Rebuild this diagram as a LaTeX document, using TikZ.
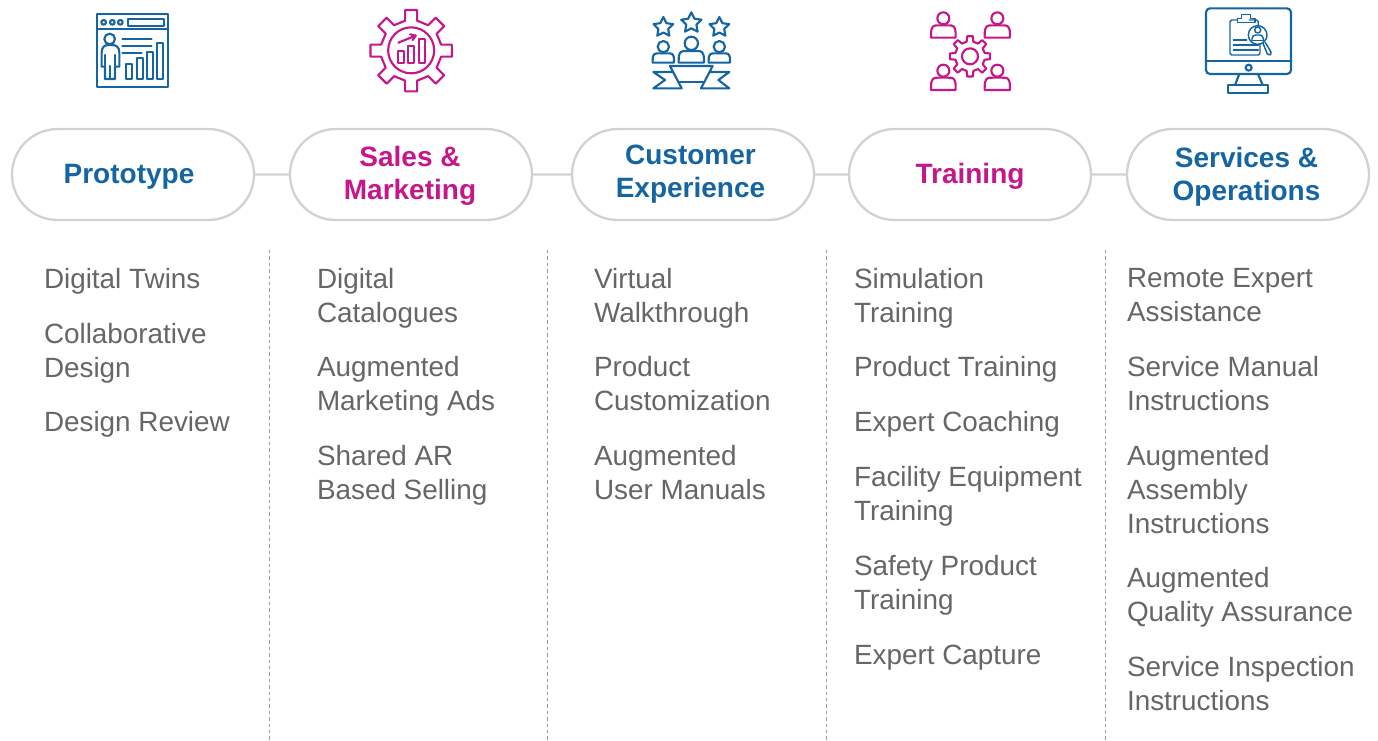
\documentclass[tikz,border=0pt]{standalone}
\usepackage{fontspec}
\setmainfont{Liberation Sans}
\usetikzlibrary{shapes.misc}
\definecolor{iblue}{HTML}{1565A3}
\definecolor{imag}{HTML}{C5178A}
\definecolor{itext}{HTML}{666666}
\definecolor{ipill}{HTML}{D2D2D2}
\definecolor{isep}{HTML}{9A9A9A}
\tikzset{
  pill/.style={draw=ipill,line width=1.75pt,rounded rectangle,minimum width=181.5pt,minimum height=68.2pt,inner sep=0pt},
  head/.style={inner sep=0pt,align=center,font=\fontsize{21}{24.8}\selectfont\bfseries},
  link/.style={draw=ipill,line width=1.75pt},
  sep/.style={draw=isep,line width=0.7pt,dash pattern=on 2.6pt off 2.2pt},
  item/.style={anchor=north west,inner sep=0pt,outer sep=0pt,yshift=17.7pt,align=left,text=itext,font=\fontsize{20.9}{25.3}\selectfont,execute at begin node=\strut},
  multi/.style={yshift=-3pt},
  zoomed/.style={shift={(#1,0)},x=0.25pt,y=-0.25pt,line width=1.6pt,line join=round,line cap=round},
  thin line/.style={line width=1.1pt}
}
\newcommand{\iperson}[5]{% head x, head y, head r, body half width, body bottom
  \draw (#1,#2) circle[radius=#3];
  \draw ({#1-#4},#5) -- ({#1-#4},{#5-7}) .. controls ({#1-#4},{#2+#3+3}) and ({#1-#4*0.8},{#2+#3+3}) .. ({#1-#4*0.4},{#2+#3+3}) -- ({#1+#4*0.4},{#2+#3+3}) .. controls ({#1+#4*0.8},{#2+#3+3}) and ({#1+#4},{#2+#3+3}) .. ({#1+#4},{#5-7}) -- ({#1+#4},#5) -- cycle;
}
\newcommand{\istar}[3]{% x, y, r
  \draw (#1,#2) +(-90:#3) \foreach \k in {1,...,9}{ -- +({-90+36*\k}:{ifthenelse(mod(\k,2)==1,#3*0.5,#3)}) } -- cycle;
}
\newcommand{\igear}[7]{% x, y, a1 r1 a2 r2 step
  \draw (#1,#2) +({0-#3}:#4)
    \foreach \a in {0,#7,...,359}{ -- +({\a-#3}:#4) -- +({\a-#5}:#6) -- +({\a+#5}:#6) -- +({\a+#3}:#4) } -- cycle;
}
\begin{document}
\begin{tikzpicture}[x=0.75pt,y=-0.75pt]
\useasboundingbox (0,0) rectangle (1378,740);

% icons
\begin{scope}[zoomed=80,draw=iblue]
  \draw (50,42) rectangle (263,260);
  \draw (50,88) -- (263,88);
  \foreach \cx in {71,97,121} \draw (\cx,67) circle[radius=7];
  \draw (143,58) rectangle (252,77);
  \draw (89,117) circle[radius=16];
  \draw (75,200) -- (65,200) -- (65,158) .. controls (65,140) and (75,135) .. (85,135) -- (95,135) .. controls (108,135) and (118,140) .. (118,158) -- (118,200) -- (105,200) -- (105,237) -- (75,237) -- cycle;
  \draw (75,165) -- (75,200);
  \draw (105,165) -- (105,200);
  \draw (90,198) -- (90,237);
  \draw (127,117) -- (215,117);
  \draw (127,137) -- (215,137);
  \draw (127,158) -- (185,158);
  \draw (138,193) rectangle (155,236);
  \draw (170,174) rectangle (188,236);
  \draw (202,155) rectangle (219,236);
  \draw (230,128) rectangle (249,236);
\end{scope}

\begin{scope}[zoomed=355,draw=imag]
  \igear{168.5}{152}{11.3}{91.8}{8.4}{123.3}{45}
  \draw (168.5,151) circle[radius=69];
  \draw (128,152) rectangle (147,190);
  \draw (160,137) rectangle (178,190);
  \draw (192,118) rectangle (211,190);
  \draw (130,128) -- (182,107);
  \draw (165,103) -- (182,107) -- (173,120);
\end{scope}

\begin{scope}[zoomed=640,draw=iblue]
  \istar{70}{82}{31}
  \istar{154}{69}{32}
  \istar{238}{82}{31}
  \iperson{70}{140}{17}{32}{188}
  \iperson{154}{130}{20}{38}{188}
  \iperson{238}{140}{17}{32}{188}
  \draw (90,198) -- (218,198) -- (183,265) -- (268,265) -- (235,240) -- (268,216) -- (208,216);
  \draw (90,198) -- (125,265) -- (40,265) -- (75,240) -- (40,216) -- (100,216);
  \draw (118,247) -- (190,247);
\end{scope}

\begin{scope}[zoomed=915,draw=imag]
  \iperson{85}{55}{18}{37}{113}
  \iperson{247}{55}{18}{38}{113}
  \iperson{85}{212}{18}{37}{270}
  \iperson{247}{212}{18}{38}{270}
  \igear{165}{169}{13}{45}{8}{61}{45}
  \draw (165,169) circle[radius=24];
\end{scope}

\begin{scope}[zoomed=1190,draw=iblue]
  \draw[rounded corners=3pt] (48,25) rectangle (303,222);
  \draw (48,182) -- (303,182);
  \draw (176,203) circle[radius=9];
  \draw (148,222) -- (135,255);
  \draw (204,222) -- (218,255);
  \draw (115,255) rectangle (235,280);
  \begin{scope}[thin line]
    \draw (178,60) -- (200,60) -- (205,65) -- (205,78);
    \draw (143,60) -- (125,60) -- (120,65) -- (120,160) -- (125,165) -- (205,165) -- (210,160) -- (210,133);
    \draw (143,68) -- (143,55) -- (155,55) -- (155,43) -- (182,43) -- (182,55) -- (195,55) -- (195,68) -- cycle;
    \draw (203,105) circle[radius=28];
    \draw (203,90) circle[radius=9];
    \draw (186,122) -- (186,116) .. controls (186,108) and (192,105) .. (198,105) -- (208,105) .. controls (214,105) and (220,108) .. (220,116) -- (220,122);
    \draw (186,122) -- (220,122);
    \draw (219,130) -- (232,162) .. controls (236,168) and (245,165) .. (243,156) -- (226,128);
    \draw (130,120) -- (170,120);
    \draw (130,135) -- (205,135);
    \draw (130,150) -- (205,150);
  \end{scope}
\end{scope}

% pills
\node[pill] (p1) at (133,174.5) {};
\node[pill] (p2) at (411,174.5) {};
\node[pill] (p3) at (693,174.5) {};
\node[pill] (p4) at (970,174.5) {};
\node[pill] (p5) at (1248,174.5) {};
\node[head,text=iblue] (t1) at (129,176.5) {Prototype};
\node[head,text=imag]  (t2) at (410,176) {Sales \&\\Marketing};
\node[head,text=iblue] (t3) at (690.5,174.5) {Customer\\Experience};
\node[head,text=imag]  (t4) at (970,176.5) {Training};
\node[head,text=iblue] (t5) at (1246.5,177) {Services \&\\Operations};
\draw[link] (p1) -- (p2);
\draw[link] (p2) -- (p3);
\draw[link] (p3) -- (p4);
\draw[link] (p4) -- (p5);

% separators
\foreach \n/\sx in {a/269,b/547.5,c/826.5,d/1105}{
  \coordinate (\n top) at (\sx,250);
  \coordinate (\n bot) at (\sx,740);
  \draw[sep] (\n top) -- (\n bot);
}

% column 1
\node[item] (a1) at (44,288) {Digital Twins};
\node[item,multi] (a2) at (44,343) {Collaborative\\Design};
\node[item] (a3) at (44,431) {Design Review};
% column 2
\node[item,multi] (b1) at (317,288) {Digital\\Catalogues};
\node[item,multi] (b2) at (317,376) {Augmented\\Marketing Ads};
\node[item,multi] (b3) at (317,465) {Shared AR\\Based Selling};
% column 3
\node[item,multi] (c1) at (594,288) {Virtual\\Walkthrough};
\node[item,multi] (c2) at (594,376) {Product\\Customization};
\node[item,multi] (c3) at (594,465) {Augmented\\User Manuals};
% column 4
\node[item,multi] (d1) at (854,288) {Simulation\\Training};
\node[item] (d2) at (854,376) {Product Training};
\node[item] (d3) at (854,431) {Expert Coaching};
\node[item,multi] (d4) at (854,486) {Facility Equipment\\Training};
\node[item,multi] (d5) at (854,575) {Safety Product\\Training};
\node[item] (d6) at (854,664) {Expert Capture};
% column 5
\node[item,multi] (e1) at (1127,288) {Remote Expert\\Assistance};
\node[item,multi] (e2) at (1127,376) {Service Manual\\Instructions};
\node[item,multi] (e3) at (1127,465) {Augmented\\Assembly\\Instructions};
\node[item,multi] (e4) at (1127,587) {Augmented\\Quality Assurance};
\node[item,multi] (e5) at (1127,676) {Service Inspection\\Instructions};
\end{tikzpicture}
\end{document}
